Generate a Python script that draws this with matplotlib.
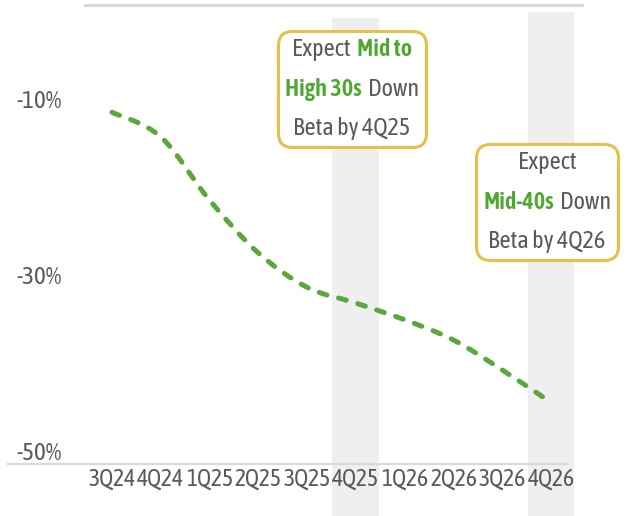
import matplotlib
matplotlib.use("Agg")
import matplotlib.pyplot as plt
from matplotlib.path import Path
from matplotlib.patches import PathPatch
from matplotlib.offsetbox import TextArea, HPacker, VPacker, AnnotationBbox
import numpy as np

# data
quarters = ['3Q24', '4Q24', '1Q25', '2Q25', '3Q25', '4Q25', '1Q26', '2Q26', '3Q26', '4Q26']
down_beta = [-11.5, -14.3, -21.5, -27.5, -31.4, -33.2, -35.1, -37.4, -40.8, -44.5]
y_ticks = [-10, -30, -50]
highlight = ['4Q25', '4Q26']

GRAY = '#595959'
GREEN_TXT = '#4ea72e'
GREEN_LINE = '#5aa73c'
GOLD = '#e6c04a'
BAND = '#efefef'
GRID = '#d9d9d9'

plt.rcParams['font.family'] = ['Asap Condensed', 'Cabin Condensed', 'DejaVu Sans']


def smooth_path(xs, ys):
    # excel style smoothed line: catmull-rom turned into bezier segments
    pts = np.column_stack([xs, ys]).astype(float)
    verts = [pts[0]]
    codes = [Path.MOVETO]
    n = len(pts)
    for i in range(n - 1):
        p0 = pts[i - 1] if i > 0 else pts[i]
        p1 = pts[i]
        p2 = pts[i + 1]
        p3 = pts[i + 2] if i + 2 < n else pts[i + 1]
        c1 = p1 + (p2 - p0) / 6.0
        c2 = p2 - (p3 - p1) / 6.0
        verts += [c1, c2, p2]
        codes += [Path.CURVE4] * 3
    return Path(verts, codes)


fig = plt.figure(figsize=(6.26, 5.16), dpi=100)
ax = fig.add_axes([85 / 626, 1 - 464 / 516, 497 / 626, 459 / 516])

x = np.arange(len(quarters))

# grey bands behind the target quarters
for q, top in zip(highlight, [0.972, 0.985]):
    i = quarters.index(q)
    ax.axvspan(i - 0.48, i + 0.48, ymin=-0.12, ymax=top, color=BAND,
               lw=0, zorder=0, clip_on=False)

# the two grid lines
ax.plot([0, 1], [1, 1], transform=ax.transAxes, color=GRID, lw=2.2,
        clip_on=False, zorder=1)
ax.plot([-0.155, 0.97], [0, 0], transform=ax.transAxes, color=GRID, lw=1.6,
        clip_on=False, zorder=1)

patch = PathPatch(smooth_path(x, down_beta), fill=False, edgecolor=GREEN_LINE,
                  lw=3.6, linestyle=(0, (1.6, 2.4)), capstyle='round', zorder=3)
ax.add_patch(patch)

ax.set_xlim(-0.554, 9.636)
ax.set_ylim(-51.5, 0.7)
ax.set_xticks(x)
ax.set_xticklabels(quarters)
ax.set_yticks(y_ticks)
ax.set_yticklabels([f'{v}%' for v in y_ticks])
ax.tick_params(length=0, labelcolor=GRAY)
ax.tick_params(axis='y', pad=16.5, labelsize=18)
ax.tick_params(axis='x', pad=3, labelsize=17)
for s in ax.spines.values():
    s.set_visible(False)
ax.set_facecolor('none')


def callout(lines, xy):
    rows = []
    for parts in lines:
        areas = []
        for txt, green in parts:
            props = dict(color=GREEN_TXT if green else GRAY, fontsize=17.5,
                         fontweight=600 if green else 'normal')
            areas.append(TextArea(txt, textprops=props))
        rows.append(HPacker(children=areas, align='baseline', pad=0, sep=4))
    box = VPacker(children=rows, align='center', pad=0, sep=12)
    ab = AnnotationBbox(box, xy, xycoords='figure pixels', frameon=True,
                        bboxprops=dict(boxstyle='round,pad=0.5,rounding_size=1.0',
                                       edgecolor=GOLD, facecolor='white', lw=2.2),
                        zorder=5)
    fig.add_artist(ab)


callout([[('Expect', False), ('Mid to', True)],
         [('High 30s', True), ('Down', False)],
         [('Beta by 4Q25', False)]], (352, 516 - 89))
callout([[('Expect', False)],
         [('Mid-40s', True), ('Down', False)],
         [('Beta by 4Q26', False)]], (547, 516 - 202))

fig.savefig('out.png', dpi=100)
